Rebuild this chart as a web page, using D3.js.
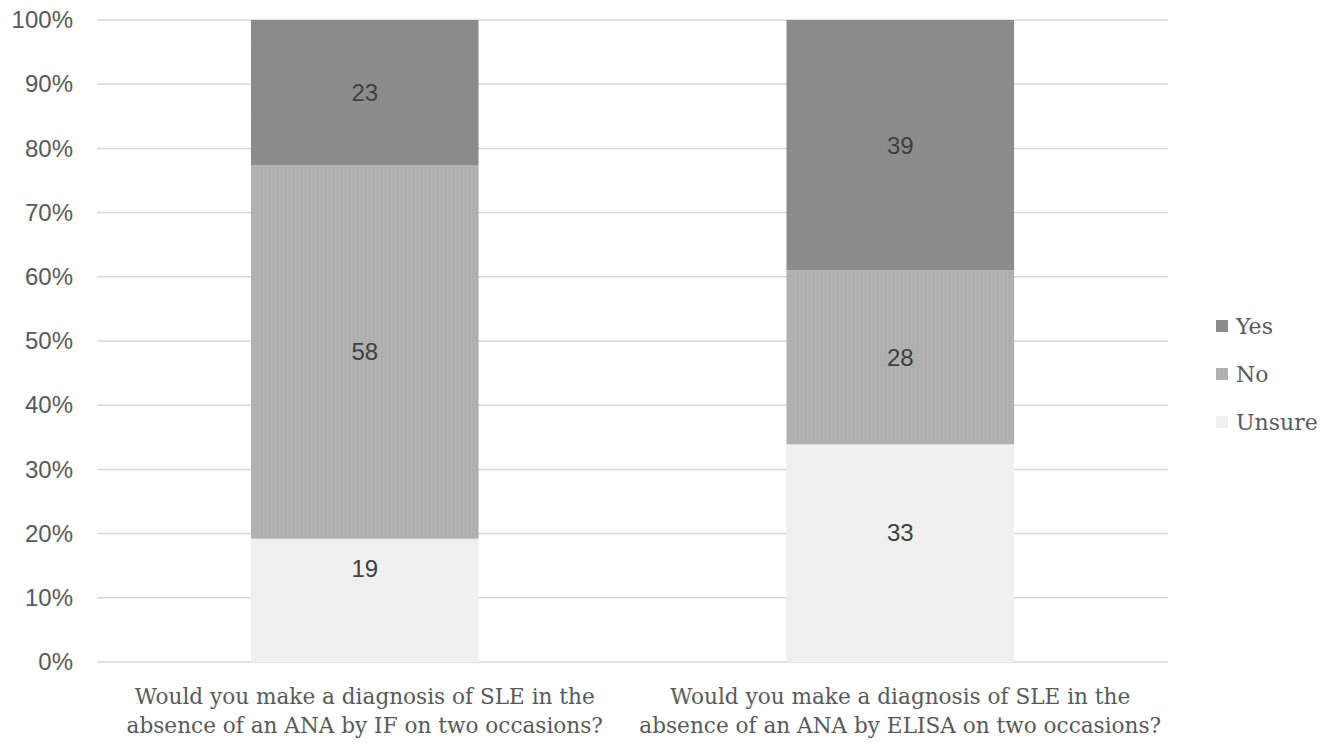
<!DOCTYPE html>
<html><head><meta charset="utf-8">
<script src="https://cdn.jsdelivr.net/npm/d3@7"></script>
<style>body{margin:0;background:#fff}svg{display:block}</style>
</head><body>
<svg id="chart" width="1334" height="745"></svg>
<script>
const categories = [
  ["Would you make a diagnosis of SLE in the", "absence of an ANA by IF on two occasions?"],
  ["Would you make a diagnosis of SLE in the", "absence of an ANA by ELISA on two occasions?"]
];
const seriesNames = ["Unsure", "No", "Yes"];
// segment shares (percent)
const unsure = [19.2, 33.9];
const no = [58.2, 27.1];
const yes = [22.6, 39.0];
// printed data labels
const unsureLabels = [19, 33];
const noLabels = [58, 28];
const yesLabels = [23, 39];
const yTicks = [0, 0.1, 0.2, 0.3, 0.4, 0.5, 0.6, 0.7, 0.8, 0.9, 1.0];

const colors = {Unsure: "#efefef", No: "#b0b0b0", Yes: "#8b8b8b"};
// vertical placement of label inside segment (fraction from segment top)
const labelFrac = {Unsure: [0.24, 0.405], No: [0.5, 0.5], Yes: [0.5, 0.5]};

const rows = categories.map((c, i) => ({
  key: i, Unsure: unsure[i], No: no[i], Yes: yes[i],
  lab: {Unsure: unsureLabels[i], No: noLabels[i], Yes: yesLabels[i]}
}));
const svg = d3.select("#chart");
const m = {left: 97, right: 166, top: 20, bottom: 83};
const W = 1334, H = 745;
const x = d3.scaleBand().domain(rows.map(r => r.key)).range([m.left, W - m.right]).paddingInner(0.575).paddingOuter(0.2875);
const y = d3.scaleLinear().domain([0, 1]).range([H - m.bottom, m.top]);

const stack = d3.stack().keys(seriesNames).offset(d3.stackOffsetExpand);
const layers = stack(rows);

// gridlines
svg.append("g").selectAll("line").data(yTicks).join("line")
  .attr("x1", m.left).attr("x2", W - m.right)
  .attr("y1", d => y(d)).attr("y2", d => y(d))
  .attr("stroke", "#d9d9d9").attr("stroke-width", 1.5);

// y axis labels
const yAxis = d3.axisLeft(y).tickValues(yTicks).tickFormat(d3.format(".0%")).tickSize(0).tickPadding(24);
const ya = svg.append("g").attr("transform", `translate(${m.left},0)`).call(yAxis);
ya.select(".domain").remove();
ya.selectAll("text").attr("font-family", "Liberation Sans, Arial, sans-serif").attr("font-size", 24).attr("fill", "#595959");

// textures
const defs = svg.append("defs");
const pY = defs.append("pattern").attr("id", "pYes").attr("patternUnits", "userSpaceOnUse").attr("width", 9).attr("height", 9);
pY.append("rect").attr("width", 9).attr("height", 9).attr("fill", colors.Yes);
pY.append("rect").attr("x", 2).attr("y", 3).attr("width", 1).attr("height", 1).attr("fill", "#9c9c9c");
const pN = defs.append("pattern").attr("id", "pNo").attr("patternUnits", "userSpaceOnUse").attr("width", 4).attr("height", 4);
pN.append("rect").attr("width", 4).attr("height", 4).attr("fill", colors.No);
pN.append("rect").attr("x", 1).attr("y", 1).attr("width", 1).attr("height", 1).attr("fill", "#a6a6a6");
pN.append("rect").attr("x", 3).attr("y", 2).attr("width", 1).attr("height", 1).attr("fill", "#b9b9b9");
const pU = defs.append("pattern").attr("id", "pUnsure").attr("patternUnits", "userSpaceOnUse").attr("width", 4).attr("height", 4);
pU.append("rect").attr("width", 4).attr("height", 4).attr("fill", colors.Unsure);
pU.append("rect").attr("x", 1).attr("y", 1).attr("width", 1).attr("height", 1).attr("fill", "#f8f8f8");
const fillOf = k => `url(#p${k})`;

// bars
const g = svg.append("g");
layers.forEach(layer => {
  const k = layer.key;
  g.append("g").selectAll("rect").data(layer).join("rect")
    .attr("x", d => x(d.data.key)).attr("width", x.bandwidth())
    .attr("y", d => y(d[1])).attr("height", d => y(d[0]) - y(d[1]))
    .attr("fill", fillOf(k));
  g.append("g").selectAll("text").data(layer).join("text")
    .attr("x", d => x(d.data.key) + x.bandwidth() / 2)
    .attr("y", (d, i) => y(d[1]) + (y(d[0]) - y(d[1])) * labelFrac[k][i])
    .attr("dy", "0.35em").attr("text-anchor", "middle")
    .attr("font-family", "Liberation Sans, Arial, sans-serif").attr("font-size", 24).attr("fill", "#404040")
    .text(d => d.data.lab[k]);
});

// category labels
const cl = svg.append("g");
rows.forEach((r, i) => {
  const t = cl.append("text").attr("text-anchor", "middle")
    .attr("font-family", "DejaVu Serif, serif").attr("font-size", 21.6).attr("fill", "#595959");
  categories[i].forEach((line, j) => {
    t.append("tspan").attr("x", x(r.key) + x.bandwidth() / 2).attr("y", 704 + j * 29).text(line);
  });
});

// legend
const lg = svg.append("g");
const legendOrder = ["Yes", "No", "Unsure"];
legendOrder.forEach((k, i) => {
  const cy = 326 + i * 48;
  lg.append("rect").attr("x", 1216).attr("y", cy - 6).attr("width", 12).attr("height", 12).attr("fill", fillOf(k));
  lg.append("text").attr("x", 1236).attr("y", cy).attr("dy", "0.35em")
    .attr("font-family", "DejaVu Serif, serif").attr("font-size", 22).attr("fill", "#595959").text(k);
});
</script>
</body></html>
